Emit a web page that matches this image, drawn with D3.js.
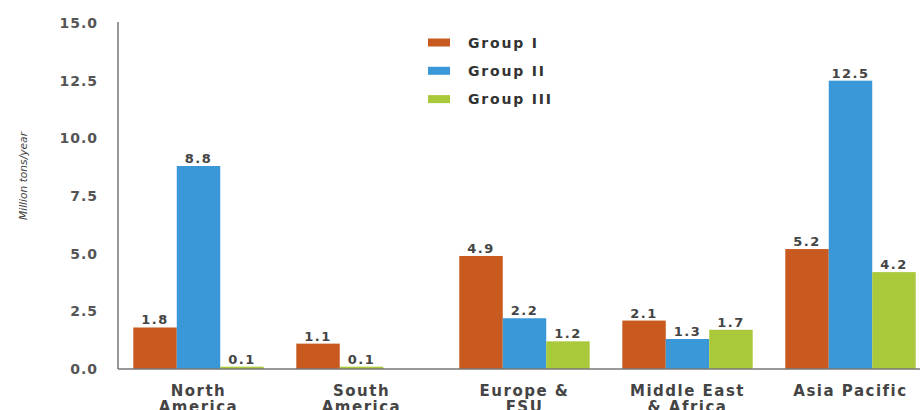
<!DOCTYPE html>
<html>
<head>
<meta charset="utf-8">
<script src="https://cdn.jsdelivr.net/npm/d3@7"></script>
<style>
  html, body { margin: 0; padding: 0; background: #fff; }
  svg { display: block; }
</style>
</head>
<body>
<svg id="chart" width="920" height="410"></svg>
<script>
const categories = ["North America", "South America", "Europe & FSU", "Middle East & Africa", "Asia Pacific"];
const categoryLabelLines = [["North", "America"], ["South", "America"], ["Europe &", "FSU"], ["Middle East", "& Africa"], ["Asia Pacific"]];
const seriesNames = ["Group I", "Group II", "Group III"];
const groupI   = [1.8, 1.1, 4.9, 2.1, 5.2];
const groupII  = [8.8, null, 2.2, 1.3, 12.5];
const groupIII = [0.1, 0.1, 1.2, 1.7, 4.2];
const yTicks = [0, 2.5, 5, 7.5, 10, 12.5, 15];
const yTitle = "Million tons/year";
const colors = ["#c85a1f", "#3a97d8", "#a9c93a"];

const seriesValues = [groupI, groupII, groupIII];
const svg = d3.select("#chart");

const y = d3.scaleLinear().domain([0, 15]).range([369, 23]);
const x = d3.scaleBand().domain(categories).range([117, 932]).paddingInner(0.2).paddingOuter(0.1);
const xs = d3.scaleBand().domain([0, 1, 2]).range([0, x.bandwidth()]);

const fontBold = "'DejaVu Sans', 'Open Sans', sans-serif";
const textCol = "#444";

// Y tick labels
svg.append("g").selectAll("text").data(yTicks).join("text")
  .attr("x", 98).attr("y", d => y(d) + 5)
  .attr("text-anchor", "end")
  .attr("font-family", fontBold).attr("font-weight", "bold").attr("font-size", 14)
  .attr("letter-spacing", 1)
  .attr("fill", "#555")
  .text(d => d3.format(".1f")(d));

// Y title
svg.append("text")
  .attr("transform", `translate(27,${176}) rotate(-90)`)
  .attr("text-anchor", "middle")
  .attr("font-family", "'Liberation Sans Narrow', 'DejaVu Sans Condensed', sans-serif")
  .attr("font-style", "italic").attr("font-size", 11)
  .attr("fill", "#444")
  .attr("textLength", 88).attr("lengthAdjust", "spacingAndGlyphs")
  .text(yTitle);

// bars
const barData = [];
categories.forEach((c, ci) => {
  let slot = 0;
  seriesValues.forEach((vals, si) => {
    const v = vals[ci];
    if (v === null || v === undefined) return;
    barData.push({ c, si, v, slot });
    slot++;
  });
});

const bars = svg.append("g");
bars.selectAll("rect").data(barData).join("rect")
  .attr("x", d => x(d.c) + xs(d.slot))
  .attr("width", xs.bandwidth())
  .attr("y", d => y(d.v))
  .attr("height", d => Math.max(y(0) - y(d.v), 2))
  .attr("fill", d => colors[d.si]);

bars.selectAll("text").data(barData).join("text")
  .attr("x", d => x(d.c) + xs(d.slot) + xs.bandwidth() / 2)
  .attr("y", d => Math.min(y(d.v), y(0) - 2) - 3)
  .attr("text-anchor", "middle")
  .attr("font-family", fontBold).attr("font-weight", "bold").attr("font-size", 13)
  .attr("letter-spacing", 1.5)
  .attr("fill", textCol)
  .text(d => d3.format(".1f")(d.v));

// axes lines
svg.append("line").attr("x1", 118).attr("x2", 118).attr("y1", y(15) - 1).attr("y2", y(0))
  .attr("stroke", "#777").attr("stroke-width", 1.5);
svg.append("line").attr("x1", 118).attr("x2", 920).attr("y1", y(0)).attr("y2", y(0))
  .attr("stroke", "#777").attr("stroke-width", 1.5);

// category labels
const cl = svg.append("g");
categories.forEach((c, ci) => {
  const cx = x(c) + x.bandwidth() / 2;
  const t = cl.append("text")
    .attr("x", cx)
    .attr("y", 396)
    .attr("text-anchor", "middle")
    .attr("font-family", fontBold).attr("font-weight", "bold").attr("font-size", 15)
    .attr("letter-spacing", 1.5)
    .attr("fill", textCol);
  categoryLabelLines[ci].forEach((line, li) => {
    t.append("tspan").attr("x", cx).attr("dy", li === 0 ? 0 : 16).text(line);
  });
});

// legend
const lg = svg.append("g").attr("transform", "translate(428,42.5)");
seriesNames.forEach((s, i) => {
  const g = lg.append("g").attr("transform", `translate(0,${i * 28.3})`);
  g.append("rect").attr("x", 0).attr("y", -4).attr("width", 22).attr("height", 8).attr("fill", colors[i]);
  g.append("text").attr("x", 40).attr("y", 5)
    .attr("font-family", fontBold).attr("font-weight", "bold").attr("font-size", 14)
    .attr("letter-spacing", 1.8)
    .attr("fill", "#333").text(s);
});
</script>
</body>
</html>
